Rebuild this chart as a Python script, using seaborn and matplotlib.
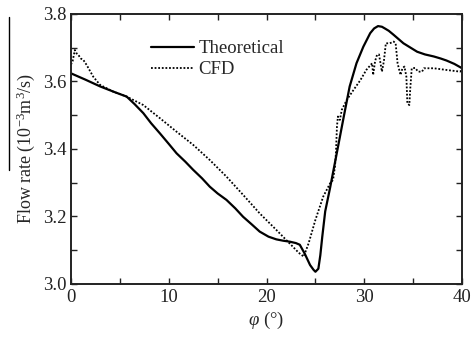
import matplotlib
matplotlib.use("Agg")
import matplotlib.pyplot as plt
from matplotlib.lines import Line2D
from matplotlib.ticker import MultipleLocator
import seaborn as sns

# theoretical curve
theo_x = [0, 1.5, 3.0, 4.5, 5.7, 6.5, 7.4, 8.2, 9.1, 10.0, 10.8, 11.7, 12.5, 13.4,
          14.2, 15.0, 15.9, 16.8, 17.6, 18.5, 19.3, 20.2, 21.0, 21.7, 22.4, 23.0,
          23.4, 23.9, 24.45, 24.8, 25.0, 25.3, 25.5, 25.7, 26.0, 26.5, 27.2, 27.9,
          28.5, 29.2, 29.9, 30.6, 31.0, 31.4, 31.8, 32.1, 32.5, 33.0, 34.0, 35.4,
          36.2, 37.1, 37.8, 38.4, 39.2, 40.0]
theo_y = [3.624, 3.605, 3.585, 3.568, 3.555, 3.533, 3.506, 3.476, 3.446, 3.415,
          3.387, 3.362, 3.338, 3.313, 3.288, 3.268, 3.249, 3.224, 3.199, 3.176,
          3.155, 3.140, 3.132, 3.128, 3.125, 3.121, 3.116, 3.090, 3.056, 3.042,
          3.036, 3.045, 3.085, 3.140, 3.215, 3.285, 3.390, 3.496, 3.585, 3.654,
          3.703, 3.743, 3.757, 3.764, 3.762, 3.757, 3.750, 3.738, 3.713, 3.688,
          3.680, 3.674, 3.668, 3.662, 3.652, 3.639]

# CFD curve
cfd_x = [0, 0.17, 0.4, 0.58, 0.75, 1.0, 1.26, 1.6, 2.28, 2.97, 4.3, 5.7, 7.4, 9.1,
         10.8, 12.5, 14.2, 15.9, 17.6, 19.3, 21.0, 22.7, 23.3, 23.8, 24.3, 25.0,
         25.8, 26.5, 26.8, 27.0, 27.1, 27.2, 27.3, 27.5, 27.7, 28.2, 28.9, 29.6,
         30.2, 30.8, 30.9, 31.1, 31.3, 31.5, 31.8, 32.0, 32.2, 32.6, 33.0, 33.2,
         33.4, 33.7, 33.9, 34.1, 34.3, 34.4, 34.6, 34.7, 34.85, 35.2, 35.5, 35.9,
         36.1, 37.1, 38.4, 39.8, 40.0]
cfd_y = [3.650, 3.660, 3.693, 3.683, 3.679, 3.668, 3.664, 3.649, 3.614, 3.590,
         3.570, 3.555, 3.530, 3.491, 3.451, 3.412, 3.367, 3.318, 3.264, 3.209,
         3.160, 3.110, 3.092, 3.081, 3.120, 3.190, 3.259, 3.298, 3.308, 3.348,
         3.390, 3.466, 3.496, 3.486, 3.516, 3.545, 3.575, 3.604, 3.634, 3.654,
         3.619, 3.660, 3.679, 3.680, 3.629, 3.660, 3.713, 3.713, 3.718, 3.713,
         3.654, 3.619, 3.639, 3.644, 3.614, 3.535, 3.530, 3.580, 3.639, 3.640,
         3.629, 3.629, 3.639, 3.639, 3.634, 3.629, 3.635]

sns.set_style("ticks")
plt.rcParams["font.family"] = ["Liberation Serif", "DejaVu Serif"]
plt.rcParams["mathtext.fontset"] = "custom"
plt.rcParams["mathtext.rm"] = "Liberation Serif"
plt.rcParams["mathtext.it"] = "Liberation Serif:italic"

fig = plt.figure(figsize=(4.73, 3.40), dpi=100)
ax = fig.add_axes([0.150, 0.165, 0.827, 0.794])

sns.lineplot(x=theo_x, y=theo_y, ax=ax, color="black", lw=1.6, sort=False,
             estimator=None, label="Theoretical")
sns.lineplot(x=cfd_x, y=cfd_y, ax=ax, color="black", lw=1.3, sort=False,
             estimator=None, linestyle=(0, (1, 1)), label="CFD")

ax.set_xlim(0, 40)
ax.set_ylim(3.0, 3.8)
ax.xaxis.set_major_locator(MultipleLocator(10))
ax.xaxis.set_minor_locator(MultipleLocator(5))
ax.yaxis.set_major_locator(MultipleLocator(0.2))
ax.yaxis.set_minor_locator(MultipleLocator(0.1))
ax.yaxis.set_major_formatter(plt.FormatStrFormatter("%.1f"))
ax.tick_params(which="both", direction="in", top=True, right=True,
               length=4, width=1, labelsize=13.5, colors="#222222")
for s in ax.spines.values():
    s.set_linewidth(1.4)
    s.set_color("#222222")

ax.set_xlabel(r"$\varphi$ (°)", fontsize=13.5, labelpad=3)
ax.set_ylabel(r"Flow rate (10$^{-3}$m$^{3}$/s)", fontsize=13, labelpad=4)

ax.legend(loc="upper left", bbox_to_anchor=(0.185, 0.93), frameon=False,
          fontsize=13.5, handlelength=2.3, handletextpad=0.25, labelspacing=0.2,
          borderaxespad=0)

# stray vertical rule at the far left of the scan
fig.add_artist(Line2D([9 / 473, 9 / 473], [1 - 17 / 340, 1 - 170 / 340],
                      color="black", lw=1))

fig.savefig("out.png", dpi=100)
